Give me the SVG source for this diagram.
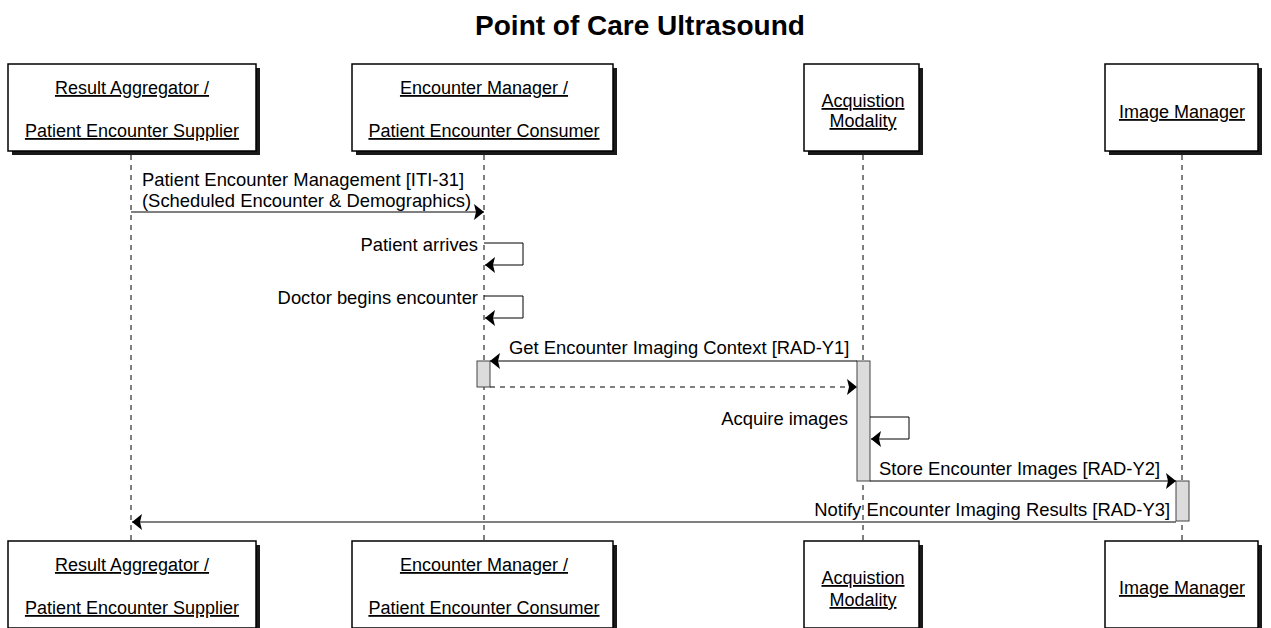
<svg xmlns="http://www.w3.org/2000/svg" width="1271" height="628" viewBox="0 0 1271 628">
<style>
.box{fill:#fff;stroke:#000;stroke-width:1.5}
.shadow{fill:#1a1a1a}
.lt{font-family:"Liberation Sans",Arial,sans-serif;font-size:18px;fill:#000;text-decoration:underline}
.t{font-family:"Liberation Sans",Arial,sans-serif;font-size:18.4px;fill:#000}
.life{stroke:#000;stroke-width:1;stroke-dasharray:5,5;fill:none}
.msg{stroke:#000;stroke-width:1;fill:none}
.ret{stroke:#000;stroke-width:1;fill:none;stroke-dasharray:5,5}
.act{fill:#dcdcdc;stroke:#444;stroke-width:1}
</style>
<defs>
<marker id="ah" markerUnits="userSpaceOnUse" markerWidth="11" markerHeight="16" refX="10" refY="8" orient="auto">
<path d="M0,0 L10,8 L0,16 L2,8 z" fill="#000"/>
</marker>
</defs>
<rect width="1271" height="628" fill="#fff"/>
<text x="640" y="35" text-anchor="middle" style="font-family:'Liberation Sans',Arial,sans-serif;font-size:28px;font-weight:bold">Point of Care Ultrasound</text>

<g id="lifelines">
<line class="life" x1="131" y1="155" x2="131" y2="541"/>
<line class="life" x1="484" y1="155" x2="484" y2="541"/>
<line class="life" x1="863" y1="155" x2="863" y2="541"/>
<line class="life" x1="1182" y1="155" x2="1182" y2="541"/>
</g>

<g id="actor-result-aggregator-top">
<rect class="shadow" x="12" y="68" width="248" height="87"/>
<rect class="box" x="8" y="64" width="248" height="87"/>
<text class="lt" x="132" y="94" text-anchor="middle">Result Aggregator /</text>
<text class="lt" x="132" y="137" text-anchor="middle">Patient Encounter Supplier</text>
</g>
<g id="actor-encounter-manager-top">
<rect class="shadow" x="356" y="68" width="261" height="87"/>
<rect class="box" x="352" y="64" width="261" height="87"/>
<text class="lt" x="484" y="94" text-anchor="middle">Encounter Manager /</text>
<text class="lt" x="484" y="137" text-anchor="middle">Patient Encounter Consumer</text>
</g>
<g id="actor-acquisition-top">
<rect class="shadow" x="808" y="68" width="115" height="87"/>
<rect class="box" x="804" y="64" width="115" height="87"/>
<text class="lt" x="863" y="107" text-anchor="middle">Acquistion</text>
<text class="lt" x="863" y="127" text-anchor="middle">Modality</text>
</g>
<g id="actor-image-manager-top">
<rect class="shadow" x="1109" y="68" width="153" height="87"/>
<rect class="box" x="1105" y="64" width="153" height="87"/>
<text class="lt" x="1182" y="118" text-anchor="middle">Image Manager</text>
</g>

<g id="actor-result-aggregator-bottom">
<rect class="shadow" x="12" y="545" width="248" height="87"/>
<rect class="box" x="8" y="541" width="248" height="87"/>
<text class="lt" x="132" y="571" text-anchor="middle">Result Aggregator /</text>
<text class="lt" x="132" y="614" text-anchor="middle">Patient Encounter Supplier</text>
</g>
<g id="actor-encounter-manager-bottom">
<rect class="shadow" x="356" y="545" width="261" height="87"/>
<rect class="box" x="352" y="541" width="261" height="87"/>
<text class="lt" x="484" y="571" text-anchor="middle">Encounter Manager /</text>
<text class="lt" x="484" y="614" text-anchor="middle">Patient Encounter Consumer</text>
</g>
<g id="actor-acquisition-bottom">
<rect class="shadow" x="808" y="545" width="115" height="87"/>
<rect class="box" x="804" y="541" width="115" height="87"/>
<text class="lt" x="863" y="584" text-anchor="middle">Acquistion</text>
<text class="lt" x="863" y="606" text-anchor="middle">Modality</text>
</g>
<g id="actor-image-manager-bottom">
<rect class="shadow" x="1109" y="545" width="153" height="87"/>
<rect class="box" x="1105" y="541" width="153" height="87"/>
<text class="lt" x="1182" y="594" text-anchor="middle">Image Manager</text>
</g>

<g id="activations">
<rect class="act" x="477" y="361" width="13" height="26"/>
<rect class="act" x="857" y="361" width="13" height="120"/>
<rect class="act" x="1176" y="481" width="13" height="40"/>
</g>

<g id="connectors">
<line class="msg" x1="131" y1="212" x2="484" y2="212" marker-end="url(#ah)"/>
<text class="t" x="142" y="186">Patient Encounter Management [ITI-31]</text>
<text class="t" x="142" y="207">(Scheduled Encounter &amp; Demographics)</text>

<polyline class="msg" points="484,243 523,243 523,265 485,265" marker-end="url(#ah)"/>
<text class="t" x="478" y="251" text-anchor="end">Patient arrives</text>

<polyline class="msg" points="484,296 523,296 523,318 485,318" marker-end="url(#ah)"/>
<text class="t" x="478" y="304" text-anchor="end">Doctor begins encounter</text>

<line class="msg" x1="857" y1="361" x2="490" y2="361" marker-end="url(#ah)"/>
<text class="t" x="509" y="354">Get Encounter Imaging Context [RAD-Y1]</text>

<line class="ret" x1="490" y1="387" x2="857" y2="387" marker-end="url(#ah)"/>

<polyline class="msg" points="870,417 909,417 909,439 871,439" marker-end="url(#ah)"/>
<text class="t" x="848" y="425" text-anchor="end">Acquire images</text>

<line class="msg" x1="870" y1="481" x2="1176" y2="481" marker-end="url(#ah)"/>
<text class="t" x="879" y="475">Store Encounter Images [RAD-Y2]</text>

<line class="msg" x1="1176" y1="522" x2="132" y2="522" marker-end="url(#ah)"/>
<text class="t" x="1170" y="516" text-anchor="end">Notify Encounter Imaging Results [RAD-Y3]</text>
</g>
</svg>
